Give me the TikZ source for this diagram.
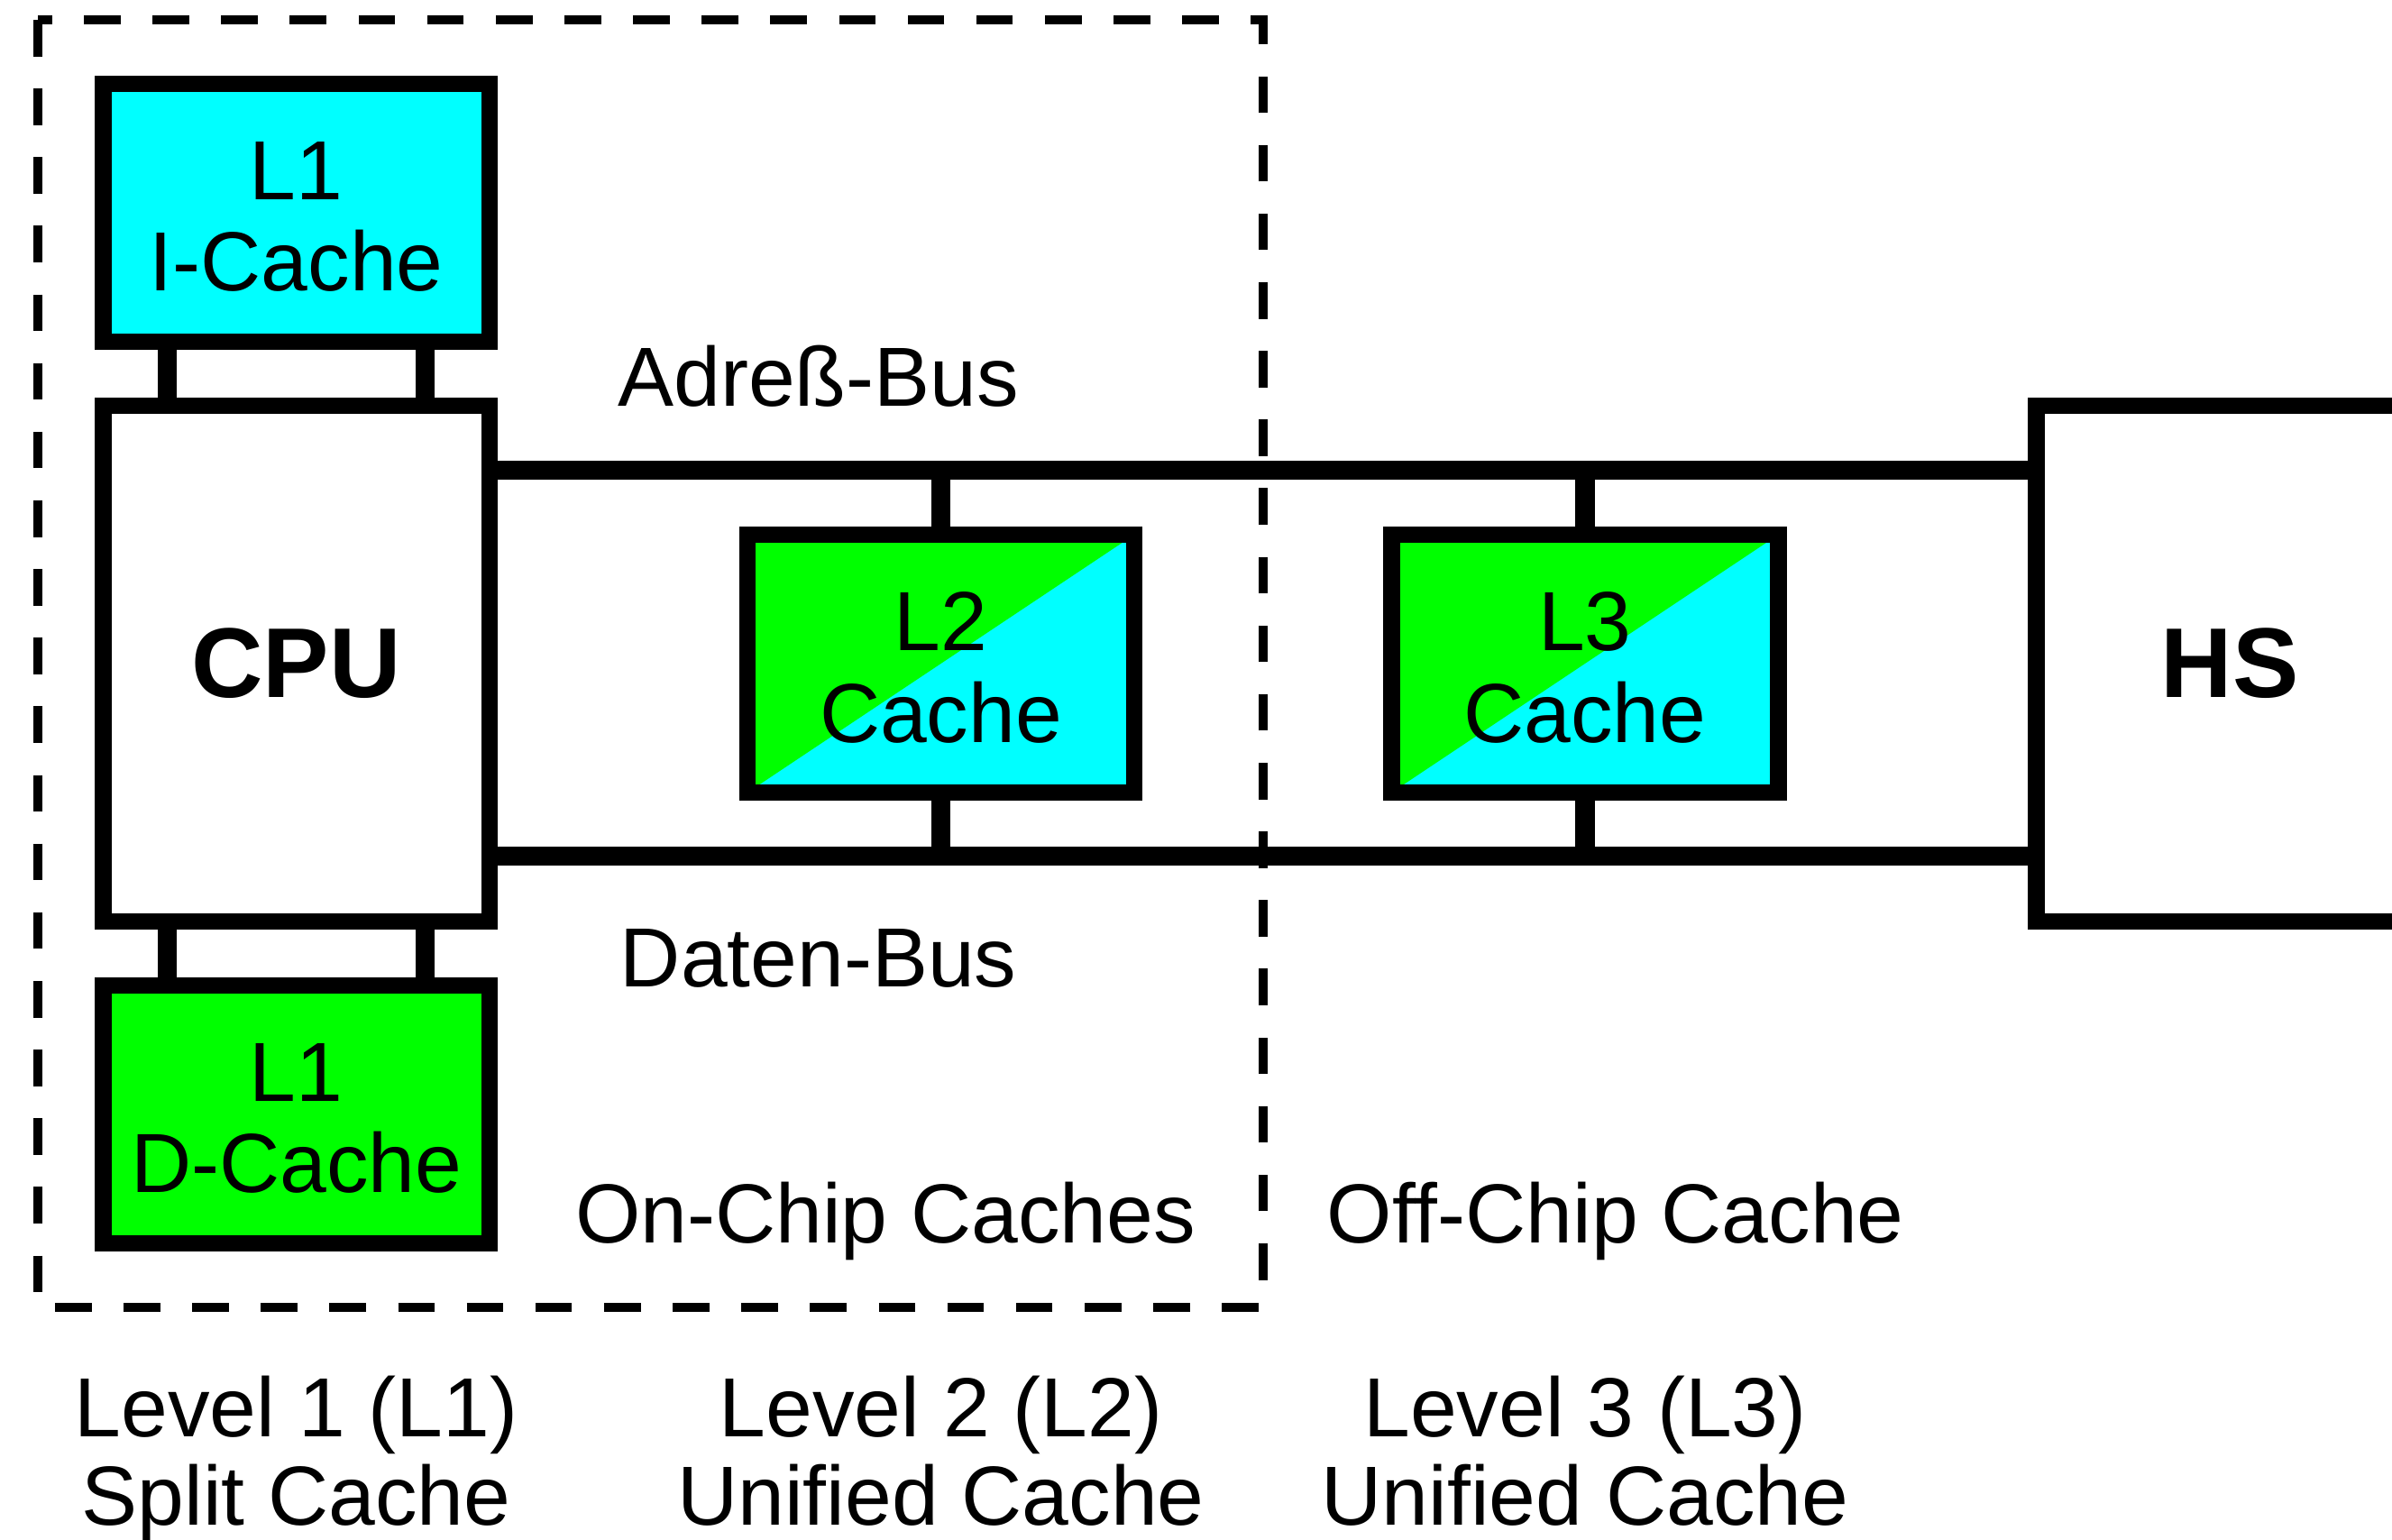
\documentclass[tikz,border=0pt]{standalone}
\usepackage{fontspec}
\setmainfont{Liberation Sans}
\definecolor{cachecyan}{RGB}{0,255,255}
\definecolor{cachegreen}{RGB}{0,255,0}
\begin{document}
\begin{tikzpicture}[x=1pt,y=-1pt,
  unit/.style={draw=black, line width=11pt, inner sep=0pt, outer sep=0pt,
    minimum width=253.5pt, align=center},
  cachebox/.style={unit, minimum height=169pt},
  cachetext/.style={inner sep=0pt, align=center, font=\fontsize{55}{60}\selectfont},
  mainbox/.style={unit, minimum height=338pt, fill=white,
    font=\bfseries\fontsize{65}{70}\selectfont},
  split/.style={path picture={
    \fill[cachecyan] (path picture bounding box.south west) rectangle
      (path picture bounding box.north east);
    \fill[cachegreen] (path picture bounding box.south west) --
      (path picture bounding box.north west) --
      (path picture bounding box.north east) -- cycle;}},
  link/.style={line width=12.5pt},
  chipframe/.style={line width=6pt, dash pattern=on 24pt off 21pt},
  caption/.style={anchor=base, inner sep=0pt, font=\fontsize{55}{60}\selectfont}]

\useasboundingbox (0,0) rectangle (1568,1009);
\clip (0,0) rectangle (1568,1009);

% on-chip region
\draw[chipframe] (25,13) rectangle (828,857);

% processor, caches and main memory
\node[cachebox, fill=cachecyan] (l1i) at (194.25,139.5) {};
\node[mainbox] (cpu) at (194.25,435) {CPU};
\node[cachebox, fill=cachegreen] (l1d) at (194.25,730.5) {};
\node[cachebox, split] (l2) at (616.75,435) {};
\node[cachebox, split] (l3) at (1039,435) {};
\node[mainbox] (hs) at (1461.75,435) {HS};

% cache names
\node[cachetext] (l1iname) at ([yshift=-2.5pt]l1i.center) {L1\\I-Cache};
\node[cachetext] (l1dname) at ([yshift=-2.5pt]l1d.center) {L1\\D-Cache};
\node[cachetext] (l2name) at ([yshift=-2.5pt]l2.center) {L2\\Cache};
\node[cachetext] (l3name) at ([yshift=-2.5pt]l3.center) {L3\\Cache};

% L1 links to the CPU
\foreach \dx in {-84.4,84.4} {
  \draw[link] ([xshift=\dx pt]l1i.south) -- ([xshift=\dx pt]cpu.north);
  \draw[link] ([xshift=\dx pt]cpu.south) -- ([xshift=\dx pt]l1d.north);
}

% address and data bus
\coordinate (abus) at ([yshift=127pt]cpu.east);
\coordinate (dbus) at ([yshift=-126pt]cpu.east);
\draw[link] (abus) -- (abus -| hs.west);
\draw[link] (dbus) -- (dbus -| hs.west);
\foreach \c in {l2,l3} {
  \draw[link] (\c.north) -- (\c.north |- abus);
  \draw[link] (\c.south) -- (\c.south |- dbus);
}

% labels
\node[caption] (abuslbl) at (536.5,266) {Adreß-Bus};
\node[caption] (dbuslbl) at (536.5,647) {Daten-Bus};
\node[caption] (onchip) at (580.5,815) {On-Chip Caches};
\node[caption] (offchip) at (1059,815) {Off-Chip Cache};
\node[caption] (lvA) at (194.25,941.6) {Level 1 (L1)};
\node[caption] (lvAb) at (194.25,999.8) {Split Cache};
\node[caption] (lvB) at (616.75,941.6) {Level 2 (L2)};
\node[caption] (lvBb) at (616.75,999.8) {Unified Cache};
\node[caption] (lvC) at (1039,941.6) {Level 3 (L3)};
\node[caption] (lvCb) at (1039,999.8) {Unified Cache};
\end{tikzpicture}
\end{document}
